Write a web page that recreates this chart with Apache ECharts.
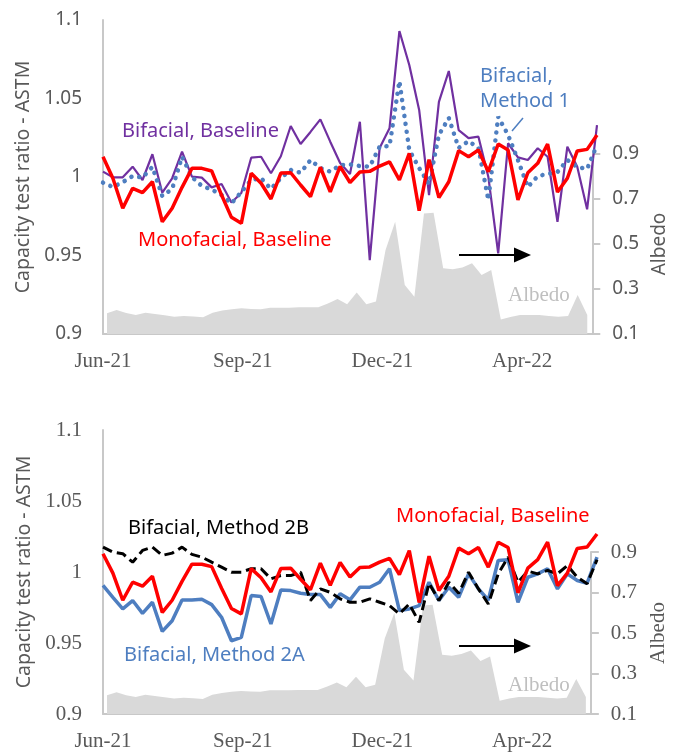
<!DOCTYPE html>
<html>
<head>
<meta charset="utf-8">
<script src="https://cdn.jsdelivr.net/npm/echarts@6/dist/echarts.min.js"></script>
<style>
html,body{margin:0;padding:0;background:#fff;}
#chart{width:677px;height:753px;}
</style>
</head>
<body>
<div id="chart"></div>
<script>
// ---- data ----
const weeks = ['2021-06-01','2021-06-08','2021-06-15','2021-06-22','2021-06-29','2021-07-06','2021-07-13','2021-07-20','2021-07-27','2021-08-03',
 '2021-08-10','2021-08-17','2021-08-24','2021-08-31','2021-09-07','2021-09-14','2021-09-21','2021-09-28','2021-10-05','2021-10-12',
 '2021-10-19','2021-10-26','2021-11-02','2021-11-09','2021-11-16','2021-11-23','2021-11-30','2021-12-07','2021-12-14','2021-12-21',
 '2021-12-28','2022-01-04','2022-01-11','2022-01-18','2022-01-25','2022-02-01','2022-02-08','2022-02-15','2022-02-22','2022-03-01',
 '2022-03-08','2022-03-15','2022-03-22','2022-03-29','2022-04-05','2022-04-12','2022-04-19','2022-04-26','2022-05-03','2022-05-10','2022-05-17'];

const monoBaseline = [1.0129,0.9992,0.9801,0.9928,0.9900,0.9970,0.9715,0.9801,0.9934,1.0055,
 1.0055,1.0038,0.9885,0.9743,0.9705,1.0024,0.9960,0.9860,1.0025,1.0027,
 0.9949,0.9875,1.0062,0.9906,1.0067,0.9965,1.0032,1.0036,1.0070,1.0096,
 0.9981,1.0151,0.9785,1.0111,0.9869,0.9970,1.0168,1.0129,1.0172,1.0034,
 1.0210,1.0172,0.9854,1.0027,1.0087,1.0210,0.9904,0.9992,1.0166,1.0176,1.0268];

const bifBaseline = [1.0034,0.9998,0.9998,1.0066,0.9981,1.0145,0.9900,0.9992,1.0161,1.0002,
 0.9996,0.9934,0.9955,0.9838,0.9898,1.0123,1.0129,1.0024,1.0132,1.0325,
 1.0210,1.0287,1.0367,1.0225,1.0089,1.0019,1.0352,0.9471,1.0185,1.0310,
 1.0930,1.0713,1.0427,0.9885,1.0478,1.0675,1.0299,1.0248,1.0257,1.0002,
 0.9514,1.0215,1.0125,1.0108,1.0183,1.0129,0.9715,1.0193,1.0066,0.9794,1.0330];

const bifMethod1 = [0.9964,0.9936,0.9967,1.0006,0.9997,1.0064,0.9879,0.9924,1.0129,1.0000,
 0.9943,0.9920,0.9885,0.9832,0.9904,0.9981,0.9992,0.9924,0.9994,1.0045,
 1.0027,1.0108,1.0057,1.0034,1.0076,1.0080,1.0070,1.0066,1.0193,1.0197,
 1.0611,1.0172,1.0057,0.9955,1.0268,1.0376,1.0185,1.0229,1.0185,0.9854,
 1.0384,1.0268,1.0108,0.9936,1.0006,1.0019,1.0032,1.0108,1.0064,1.0051,1.0204];

const bifMethod2A = [0.9905,0.9822,0.9740,0.9799,0.9709,0.9787,0.9582,0.9657,0.9803,0.9803,
 0.9808,0.9770,0.9681,0.9516,0.9539,0.9834,0.9827,0.9634,0.9874,0.9869,
 0.9850,0.9841,0.9841,0.9751,0.9846,0.9804,0.9893,0.9893,0.9928,1.0023,
 0.9728,0.9740,0.9763,0.9928,0.9799,0.9893,0.9822,0.9987,0.9881,0.9803,
 1.0081,1.0086,0.9787,0.9963,0.9987,1.0023,0.9881,0.9987,0.9940,0.9921,1.0105];

const bifMethod2B = [1.0175,1.0140,1.0129,1.0069,1.0152,1.0175,1.0117,1.0133,1.0175,1.0124,
 1.0105,1.0069,1.0034,0.9999,0.9999,1.0023,1.0023,0.9952,0.9975,0.9975,
 0.9999,0.9799,0.9881,0.9857,0.9811,0.9787,0.9787,0.9811,0.9787,0.9763,
 0.9705,0.9775,0.9645,0.9921,0.9799,0.9928,0.9850,0.9999,0.9881,0.9775,
 0.9987,1.0105,0.9928,1.0006,0.9987,1.0011,0.9987,1.0046,0.9963,0.9917,1.0086];

const albedo = [0.192,0.207,0.193,0.184,0.195,0.189,0.183,0.177,0.180,0.178,
 0.174,0.195,0.204,0.210,0.214,0.211,0.210,0.217,0.217,0.217,
 0.219,0.219,0.219,0.236,0.256,0.232,0.284,0.232,0.244,0.473,
 0.599,0.318,0.266,0.636,0.639,0.392,0.388,0.396,0.414,0.362,
 0.384,0.165,0.176,0.184,0.184,0.184,0.180,0.177,0.180,0.273,0.184];

const xTickLabels = ['Jun-21','Sep-21','Dec-21','Apr-22'];
const xTickStep = 99;   // days between labelled ticks
const xSpan = 350;      // days covered by the axis

// ---- styles ----
const SANS = "'Noto Sans', sans-serif";
const SERIF = "'Liberation Serif', serif";
const AX = '#C8C8C8';
const TXT = '#595959';
const C_RED = '#FF0000', C_PUR = '#7030A0', C_BLUE = '#4E7EC0', C_ALB = '#D9D9D9';

function xLabel(v){
  const k = Math.round(v / xTickStep);
  return (Math.abs(v - k * xTickStep) < 1e-6 && k < xTickLabels.length) ? xTickLabels[k] : '';
}

const grids = [
  {left:103, top:20, width:494, height:314},
  {left:107, top:154, width:485, height:180},
  {left:103, top:430, width:494, height:284},
  {left:107, top:552, width:485, height:162}
];

function hiddenCat(g){ return {type:'category', gridIndex:g, data:weeks, boundaryGap:false, show:false, position:'top'}; }
function dateAxis(g){
  return {type:'value', gridIndex:g, position:'bottom', min:0, max:xSpan, interval:xTickStep,
    axisLine:{show:true, onZero:false, lineStyle:{color:AX, width:2}},
    axisTick:{show:false}, splitLine:{show:false},
    axisLabel:{formatter:xLabel, color:TXT, fontFamily:SERIF, fontSize:21, margin:17}};
}
function ratioAxis(g, font, size){
  return {type:'value', gridIndex:g, min:0.9, max:1.1, interval:0.05, position:'left',
    axisLine:{show:true, onZero:false, lineStyle:{color:AX, width:2}},
    axisTick:{show:false}, splitLine:{show:false},
    axisLabel:{color:TXT, fontFamily:font, fontSize:size, margin:21},
    name:'Capacity test ratio - ASTM', nameLocation:'middle', nameRotate:90, nameGap:66,
    nameTextStyle:{color:TXT, fontFamily:SANS, fontSize:19.5}};
}
function albedoAxis(g, font, size, gap){
  return {type:'value', gridIndex:g, min:0.1, max:0.9, interval:0.2, position:'right', offset:5,
    axisLine:{show:true, onZero:false, lineStyle:{color:AX, width:2}},
    axisTick:{show:true, inside:false, length:8, lineStyle:{color:AX, width:2}},
    splitLine:{show:false},
    axisLabel:{color:TXT, fontFamily:font, fontSize:size, margin:20},
    name:'Albedo', nameLocation:'middle', nameRotate:90, nameGap:gap,
    nameTextStyle:{color:TXT, fontFamily:font, fontSize:size}};
}
function lineSeries(name, data, xi, yi, lineStyle, z){
  return {name, type:'line', data, xAxisIndex:xi, yAxisIndex:yi, symbol:'none',
    lineStyle, z, silent:true};
}
function albedoSeries(xi, yi){
  return {name:'Albedo', type:'line', data:albedo, xAxisIndex:xi, yAxisIndex:yi, symbol:'none',
    lineStyle:{width:0}, areaStyle:{color:C_ALB, opacity:1}, z:1, silent:true};
}

function txt(x, y, text, color, font, size){
  return {type:'text', x, y, z:100, style:{text, fill:color, fontFamily:font, fontSize:size,
    align:'left', verticalAlign:'middle', lineHeight:25}};
}
function arrow(y){
  return [
    {type:'line', z:100, shape:{x1:459, y1:y, x2:516, y2:y}, style:{stroke:'#000', lineWidth:2}},
    {type:'polygon', z:100, shape:{points:[[514,y-7.5],[531,y],[514,y+7.5]]}, style:{fill:'#000'}}
  ];
}

const option = {
  animation:false,
  backgroundColor:'#fff',
  grid:grids,
  xAxis:[hiddenCat(0), dateAxis(0), hiddenCat(1), hiddenCat(2), dateAxis(2), hiddenCat(3)],
  yAxis:[ratioAxis(0, SANS, 19), albedoAxis(1, SANS, 19, 47), ratioAxis(2, SERIF, 21), albedoAxis(3, SERIF, 21, 45)],
  series:[
    albedoSeries(2, 1),
    lineSeries('Bifacial, Baseline', bifBaseline, 0, 0, {color:C_PUR, width:2.2}, 3),
    lineSeries('Bifacial, Method 1', bifMethod1, 0, 0, {color:C_BLUE, width:4.5, type:[0.1,7.9], cap:'round'}, 4),
    lineSeries('Monofacial, Baseline', monoBaseline, 0, 0, {color:C_RED, width:3.5}, 5),
    albedoSeries(5, 3),
    lineSeries('Bifacial, Method 2A', bifMethod2A, 3, 2, {color:C_BLUE, width:3.5}, 3),
    lineSeries('Bifacial, Method 2B', bifMethod2B, 3, 2, {color:'#000', width:3, type:[10,5]}, 4),
    lineSeries('Monofacial, Baseline', monoBaseline, 3, 2, {color:C_RED, width:3.5}, 5)
  ],
  graphic:[
    txt(122, 131, 'Bifacial, Baseline', C_PUR, SANS, 20),
    txt(138, 240, 'Monofacial, Baseline', C_RED, SANS, 20),
    txt(480, 88.5, 'Bifacial,\nMethod 1', C_BLUE, SANS, 20),
    {type:'line', z:100, shape:{x1:523, y1:118, x2:512, y2:131}, style:{stroke:C_BLUE, lineWidth:1.5}},
    ...arrow(255),
    txt(508, 295, 'Albedo', '#BFBFBF', SERIF, 21),
    txt(128, 528, 'Bifacial, Method 2B', '#000', SANS, 20),
    txt(396, 516, 'Monofacial, Baseline', C_RED, SANS, 20),
    txt(124, 655, 'Bifacial, Method 2A', C_BLUE, SANS, 20),
    ...arrow(646),
    txt(508, 685, 'Albedo', '#BFBFBF', SERIF, 21)
  ]
};

const chart = echarts.init(document.getElementById('chart'), null, {renderer:'canvas'});
chart.setOption(option);
</script>
</body>
</html>
